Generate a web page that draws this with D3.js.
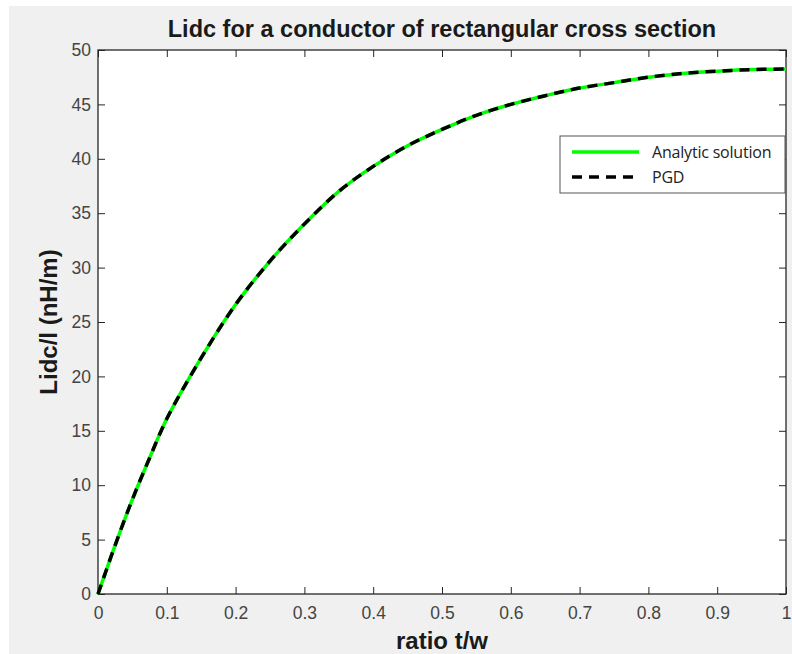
<!DOCTYPE html>
<html>
<head>
<meta charset="utf-8">
<script src="https://cdn.jsdelivr.net/npm/d3@7"></script>
<style>
  body { margin: 0; background: #fff; }
  svg { display: block; }
</style>
</head>
<body>
<svg id="chart"></svg>
<script>
// ratio t/w and inductance per unit length (nH/m)
const ratio = [0, 0.025, 0.05, 0.075, 0.1, 0.15, 0.2, 0.25, 0.3, 0.35, 0.4, 0.45, 0.5,
  0.55, 0.6, 0.65, 0.7, 0.75, 0.8, 0.85, 0.9, 0.95, 1.0];
const analytic = [0, 4.5, 8.7, 12.5, 16.1, 21.7, 26.6, 30.6, 34.0, 37.0, 39.3, 41.2, 42.7,
  44.0, 45.0, 45.8, 46.5, 47.0, 47.5, 47.85, 48.05, 48.2, 48.25];
const pgd = [0, 4.5, 8.7, 12.5, 16.1, 21.7, 26.6, 30.6, 34.0, 37.0, 39.3, 41.2, 42.7,
  44.0, 45.0, 45.8, 46.5, 47.0, 47.5, 47.85, 48.05, 48.2, 48.25];
const xTicks = [0, 0.1, 0.2, 0.3, 0.4, 0.5, 0.6, 0.7, 0.8, 0.9, 1];
const yTicks = [0, 5, 10, 15, 20, 25, 30, 35, 40, 45, 50];
const seriesNames = ["Analytic solution", "PGD"];

const W = 792, H = 654;
const margin = { top: 50, right: 6, bottom: 60, left: 98 };
const width = W - margin.left - margin.right;
const height = H - margin.top - margin.bottom;

const svg = d3.select("#chart").attr("width", W).attr("height", H);

svg.append("rect")
  .attr("x", 9).attr("y", 6)
  .attr("width", W - 9).attr("height", H - 6)
  .attr("fill", "#f0f0f0");

const g = svg.append("g")
  .attr("transform", "translate(" + margin.left + "," + margin.top + ")");

g.append("rect")
  .attr("width", width).attr("height", height)
  .attr("fill", "#fff");

const x = d3.scaleLinear().domain([0, 1]).range([0, width]);
const y = d3.scaleLinear().domain([0, 50]).range([height, 0]);

const fmt = d => d3.format("~g")(d);

function styleAxis(sel) {
  sel.select(".domain").remove();
  sel.selectAll("line").attr("stroke", "#262626").attr("stroke-width", 1);
  sel.selectAll("text")
    .attr("fill", "#444")
    .style("font-family", "Arial, 'Liberation Sans', sans-serif")
    .style("font-size", "17.5px");
}

g.append("g")
  .attr("transform", "translate(0," + height + ")")
  .call(d3.axisBottom(x).tickValues(xTicks).tickFormat(fmt).tickSize(-7).tickPadding(13))
  .call(styleAxis);

g.append("g")
  .call(d3.axisTop(x).tickValues(xTicks).tickFormat("").tickSize(-7))
  .call(styleAxis);

g.append("g")
  .call(d3.axisLeft(y).tickValues(yTicks).tickFormat(fmt).tickSize(-7).tickPadding(7))
  .call(styleAxis);

g.append("g")
  .attr("transform", "translate(" + width + ",0)")
  .call(d3.axisRight(y).tickValues(yTicks).tickFormat("").tickSize(-7))
  .call(styleAxis);

g.append("rect")
  .attr("width", width).attr("height", height)
  .attr("fill", "none")
  .attr("stroke", "#262626")
  .attr("stroke-width", 1.3);

const line = d3.line()
  .x((d, i) => x(ratio[i]))
  .y(d => y(d))
  .curve(d3.curveCatmullRom.alpha(0.5));

g.append("path")
  .datum(analytic)
  .attr("fill", "none")
  .attr("stroke", "#00ff00")
  .attr("stroke-width", 3.5)
  .attr("d", line);

g.append("path")
  .datum(pgd)
  .attr("fill", "none")
  .attr("stroke", "#000")
  .attr("stroke-width", 3.5)
  .attr("stroke-dasharray", "10,7")
  .attr("d", line);

// legend
const leg = svg.append("g").attr("transform", "translate(560,136)");
leg.append("rect")
  .attr("width", 225).attr("height", 57)
  .attr("fill", "#fff")
  .attr("stroke", "#555")
  .attr("stroke-width", 1);

const legStyles = [
  { stroke: "#00ff00", dash: null },
  { stroke: "#000", dash: "10,7" }
];
seriesNames.forEach((name, i) => {
  const row = leg.append("g").attr("transform", "translate(0," + (16 + i * 25) + ")");
  row.append("line")
    .attr("x1", 12).attr("x2", 79)
    .attr("stroke", legStyles[i].stroke)
    .attr("stroke-width", 3.5)
    .attr("stroke-dasharray", legStyles[i].dash);
  row.append("text")
    .attr("x", 92).attr("y", 0)
    .attr("dy", "0.35em")
    .attr("fill", "#222")
    .style("font-family", "'Open Sans', sans-serif")
    .style("font-size", "16px")
    .style("letter-spacing", "-0.2px")
    .text(name);
});

svg.append("text")
  .attr("x", margin.left + width / 2).attr("y", 37)
  .attr("text-anchor", "middle")
  .attr("fill", "#1a1a1a")
  .style("font-family", "Arial, 'Liberation Sans', sans-serif")
  .style("font-weight", "bold")
  .style("font-size", "23.5px")
  .text("Lidc for a conductor of rectangular cross section");

svg.append("text")
  .attr("x", margin.left + width / 2).attr("y", 649)
  .attr("text-anchor", "middle")
  .attr("fill", "#1a1a1a")
  .style("font-family", "Arial, 'Liberation Sans', sans-serif")
  .style("font-weight", "bold")
  .style("font-size", "24px")
  .text("ratio t/w");

svg.append("text")
  .attr("transform", "translate(57," + (margin.top + height / 2) + ") rotate(-90)")
  .attr("text-anchor", "middle")
  .attr("fill", "#1a1a1a")
  .style("font-family", "Arial, 'Liberation Sans', sans-serif")
  .style("font-weight", "bold")
  .style("font-size", "24px")
  .text("Lidc/l (nH/m)");
</script>
</body>
</html>
